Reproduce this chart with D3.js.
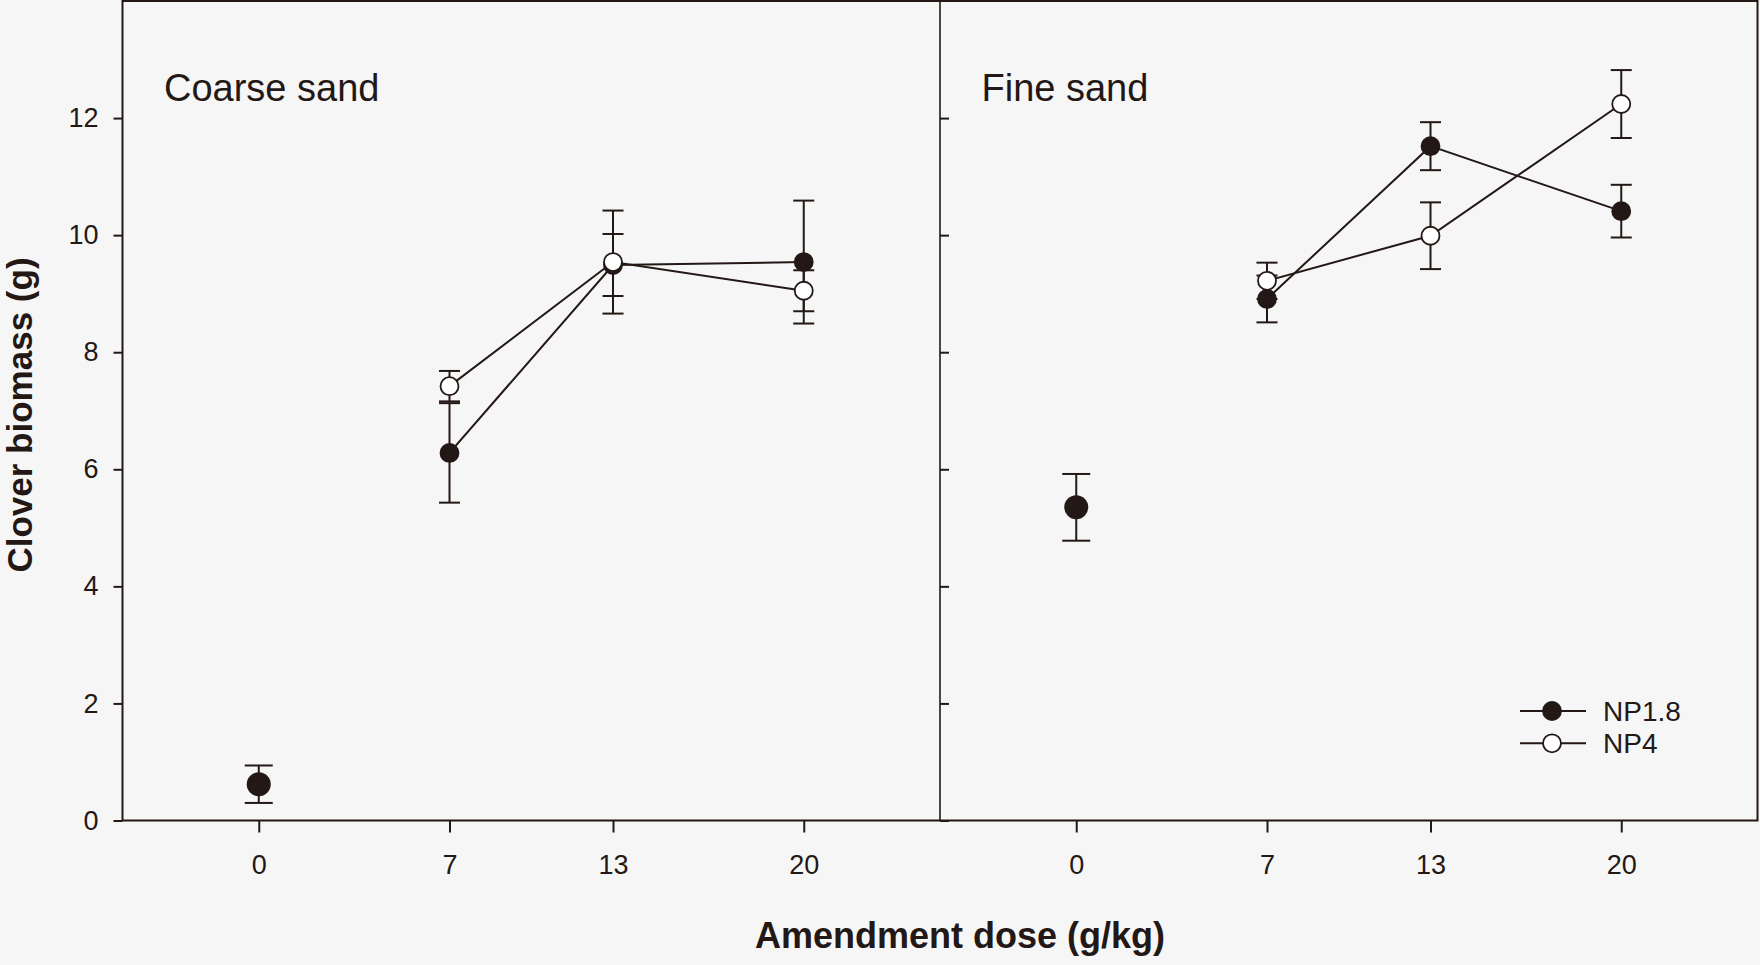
<!DOCTYPE html>
<html>
<head>
<meta charset="utf-8">
<script src="https://cdn.jsdelivr.net/npm/d3@7"></script>
<style>
  html, body { margin: 0; padding: 0; background: #f6f6f6; }
  svg { display: block; }
  text { font-family: "Liberation Sans", Arial, sans-serif; fill: #231815; }
</style>
</head>
<body>
<div id="chart"></div>
<script>
/* Clover biomass vs amendment dose — two soil panels, D3 v7 */

// ── Data ────────────────────────────────────────────────────────────────────
var panels       = ["Coarse sand", "Fine sand"];
var doses        = [7, 13, 20];
var doseTicks    = [0, 7, 13, 20];
var yTicks       = [0, 2, 4, 6, 8, 10, 12];

var coarseNP18    = [6.28, 9.49, 9.54];
var coarseNP18Err = [0.85, 0.53, 1.05];
var coarseNP4     = [7.42, 9.54, 9.05];
var coarseNP4Err  = [0.26, 0.88, 0.35];

var fineNP18      = [8.91, 11.52, 10.41];
var fineNP18Err   = [0.40, 0.41, 0.45];
var fineNP4       = [9.22, 9.99, 12.24];
var fineNP4Err    = [0.31, 0.57, 0.58];

// unamended control (dose 0), one per panel
var controlDose   = 0;
var controlMean   = [0.62, 5.35];
var controlErr    = [0.32, 0.57];

var seriesNames   = ["NP1.8", "NP4"];

(function () {
  "use strict";

  var W = 1760, H = 965;
  var ink = "#231815";

  var svg = d3.select("#chart").append("svg").attr("width", W).attr("height", H);

  var x0 = 122.5, xMid = 940, x1 = 1757.5;
  var yTop = 1, yBot = 820.5;

  var y = d3.scaleLinear().domain([0, 14]).range([yBot, yTop]);
  var xScales = [
    d3.scaleLinear().domain([-5, 25]).range([x0, xMid]),
    d3.scaleLinear().domain([-5, 25]).range([xMid, x1])
  ];

  var panelData = [
    { np18: coarseNP18, np18e: coarseNP18Err, np4: coarseNP4, np4e: coarseNP4Err },
    { np18: fineNP18,   np18e: fineNP18Err,   np4: fineNP4,   np4e: fineNP4Err }
  ];

  // ── Axes ──────────────────────────────────────────────────────────────────
  function styleAxis(g) {
    g.select(".domain").remove();
    g.selectAll("line").attr("stroke", ink).attr("stroke-width", 2);
    g.selectAll("text").style("font-size", "27px").attr("fill", ink);
  }

  xScales.forEach(function (xs) {
    svg.append("g").attr("transform", "translate(0," + yBot + ")")
      .call(d3.axisBottom(xs).tickValues(doseTicks).tickSize(12).tickSizeOuter(0).tickPadding(22))
      .call(styleAxis);
  });

  svg.append("g").attr("transform", "translate(" + x0 + ",0)")
    .call(d3.axisLeft(y).tickValues(yTicks).tickSize(9).tickSizeOuter(0).tickPadding(15))
    .call(styleAxis);

  svg.append("g").attr("transform", "translate(" + xMid + ",0)")
    .call(d3.axisRight(y).tickValues(yTicks).tickSize(9).tickSizeOuter(0).tickFormat(""))
    .call(styleAxis);

  // frame
  var frame = svg.append("g").attr("stroke", ink).attr("stroke-width", 2).attr("fill", "none");
  frame.append("rect").attr("x", x0).attr("y", yTop).attr("width", x1 - x0).attr("height", yBot - yTop);
  frame.append("line").attr("x1", xMid).attr("x2", xMid).attr("y1", yTop).attr("y2", yBot)
    .attr("stroke-width", 1.6);

  // ── Panels ────────────────────────────────────────────────────────────────
  function errBar(g, xs, xv, m, e, half) {
    var cx = xs(xv);
    g.append("line").attr("x1", cx).attr("x2", cx).attr("y1", y(m - e)).attr("y2", y(m + e));
    g.append("line").attr("x1", cx - half).attr("x2", cx + half).attr("y1", y(m + e)).attr("y2", y(m + e));
    g.append("line").attr("x1", cx - half).attr("x2", cx + half).attr("y1", y(m - e)).attr("y2", y(m - e));
  }

  panelData.forEach(function (pd, i) {
    var xs = xScales[i];
    var g  = svg.append("g");

    g.append("text").attr("x", xs(-5) + 41.5).attr("y", 100.7)
      .style("font-size", "38px").text(panels[i]);

    var line = d3.line()
      .x(function (d) { return xs(d[0]); })
      .y(function (d) { return y(d[1]); });

    var eg = g.append("g").attr("stroke", ink).attr("stroke-width", 2);

    // control point
    errBar(eg, xs, controlDose, controlMean[i], controlErr[i], 14);

    var sets = [
      { v: pd.np18, e: pd.np18e, fill: ink },
      { v: pd.np4,  e: pd.np4e,  fill: "#ffffff" }
    ];

    sets.forEach(function (s) {
      s.v.forEach(function (m, k) { errBar(eg, xs, doses[k], m, s.e[k], 10.5); });
    });

    sets.forEach(function (s) {
      g.append("path")
        .datum(doses.map(function (d, k) { return [d, s.v[k]]; }))
        .attr("fill", "none").attr("stroke", ink).attr("stroke-width", 2)
        .attr("d", line);
    });

    sets.forEach(function (s) {
      g.selectAll(null).data(s.v).enter().append("circle")
        .attr("cx", function (d, k) { return xs(doses[k]); })
        .attr("cy", function (d) { return y(d); })
        .attr("r", 9)
        .attr("fill", s.fill).attr("stroke", ink).attr("stroke-width", 1.8);
    });

    g.append("circle").attr("cx", xs(controlDose)).attr("cy", y(controlMean[i]))
      .attr("r", 12).attr("fill", ink);
  });

  // ── Legend ────────────────────────────────────────────────────────────────
  var leg = svg.append("g");
  seriesNames.forEach(function (name, i) {
    var ly = 711 + i * 32.3;
    leg.append("line").attr("x1", 1520).attr("x2", 1586).attr("y1", ly).attr("y2", ly)
      .attr("stroke", ink).attr("stroke-width", 2);
    leg.append("circle").attr("cx", 1552).attr("cy", ly).attr("r", 9)
      .attr("fill", i === 0 ? ink : "#ffffff").attr("stroke", ink).attr("stroke-width", 1.8);
    leg.append("text").attr("x", 1603).attr("y", ly + 10)
      .style("font-size", "28px").text(name);
  });

  // ── Axis titles ───────────────────────────────────────────────────────────
  svg.append("text").attr("x", 960).attr("y", 948).attr("text-anchor", "middle")
    .style("font-size", "36px").style("font-weight", "bold").text("Amendment dose (g/kg)");
  svg.append("text").attr("transform", "translate(32,415) rotate(-90)").attr("text-anchor", "middle")
    .style("font-size", "35px").style("font-weight", "bold").text("Clover biomass (g)");
})();
</script>
</body>
</html>
